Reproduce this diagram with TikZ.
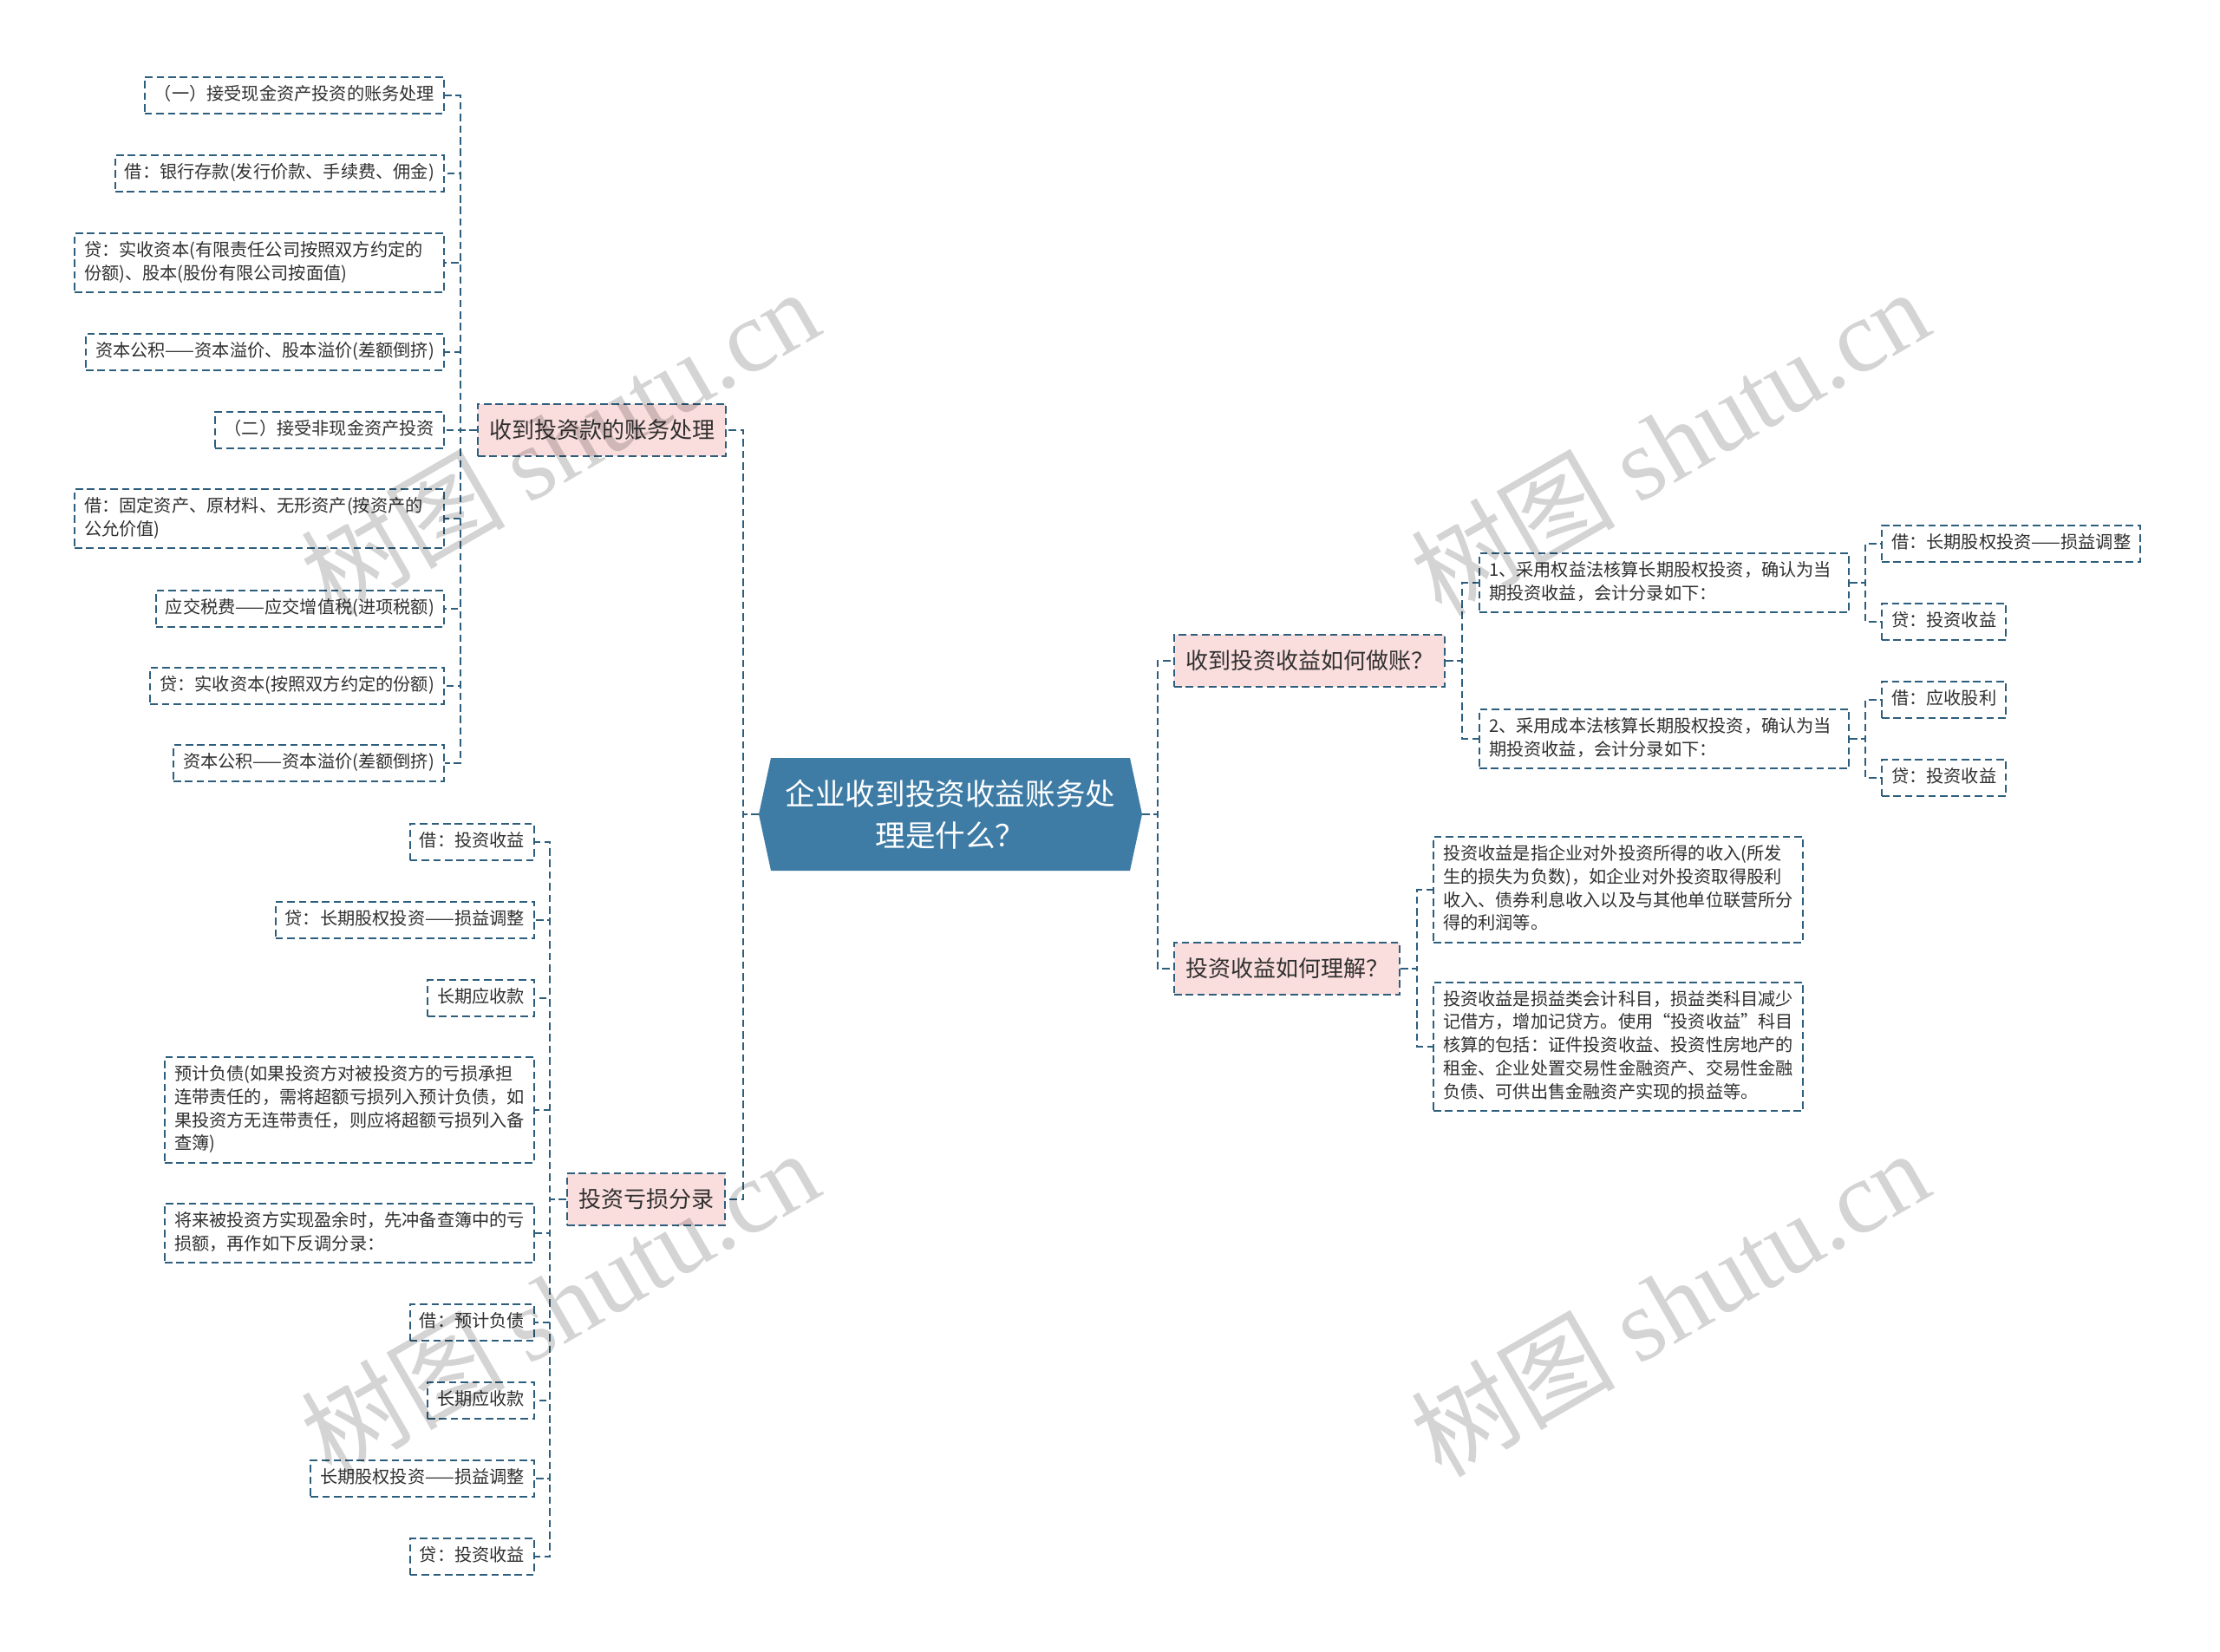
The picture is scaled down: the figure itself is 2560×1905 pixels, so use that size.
\documentclass[tikz,border=0pt]{standalone}
\usepackage{fontspec}
\setmainfont{Noto Sans CJK SC}
\newfontfamily\wmserif{Liberation Serif}
\usetikzlibrary{calc}
\definecolor{linec}{RGB}{46,94,125}
\definecolor{pinkc}{RGB}{250,221,221}
\definecolor{centc}{RGB}{62,124,165}
\definecolor{txtc}{RGB}{48,48,48}
\newcommand\leaffont{\fontsize{10.1pt}{13.35pt}\selectfont}
\newcommand\branchfont{\fontsize{13pt}{16pt}\selectfont}
\newcommand\centfont{\fontsize{17.3pt}{24pt}\selectfont}
\newcommand\lstrut{\rule[-2.85pt]{0pt}{10.5pt}}
\tikzset{
  conn/.style={draw=linec, line width=1pt, dash pattern=on 4.3pt off 2.4pt},
  leaf/.style={draw=linec, line width=1pt, dash pattern=on 4.3pt off 2.4pt,
    fill=white, text=txtc, font=\leaffont, inner xsep=5.5pt, inner ysep=4.8pt,
    execute at begin node=\lstrut, execute at end node=\lstrut},
  leafm/.style={leaf, text width=202pt, align=left},
  branch/.style={draw=linec, line width=1pt, dash pattern=on 4.3pt off 2.4pt,
    fill=pinkc, text=txtc, font=\branchfont, inner xsep=6.5pt, inner ysep=0pt,
    minimum height=30pt},
  centtext/.style={text=white, font=\centfont, align=center, inner sep=0pt},
  wm/.style={rotate=30, text=black, text opacity=0.17, font=\fontsize{59pt}{59pt}\selectfont, inner sep=0pt}
}
\begin{document}
\begin{tikzpicture}[x=0.5pt,y=-0.5pt]
\fill[white] (0,0) rectangle (2560,1905);
\useasboundingbox (0,0) rectangle (2560,1905);

% centre
\fill[centc] (875,939) -- (889,874) -- (1303,874) -- (1317,939) -- (1303,1004) -- (889,1004) -- cycle;
\node[centtext] (center) at (1096,939) {企业收到投资收益账务处\\理是什么？};
\coordinate (cw) at (875,939);
\coordinate (ce) at (1317,939);

% branches
\node[branch, anchor=east] (b1) at (838,496) {收到投资款的账务处理};
\node[branch, anchor=east] (b3) at (837,1383) {投资亏损分录};
\node[branch, anchor=west] (b2) at (1353,762) {收到投资收益如何做账？};
\node[branch, anchor=west] (b4) at (1353,1117) {投资收益如何理解？};

% branch 1 leaves
\node[leaf, anchor=east] (l11) at (513,110) {（一）接受现金资产投资的账务处理};
\node[leaf, anchor=east] (l12) at (513,200) {借：银行存款(发行价款、手续费、佣金)};
\node[leafm, anchor=east] (l13) at (513,303) {贷：实收资本(有限责任公司按照双方约定的\\份额)、股本(股份有限公司按面值)};
\node[leaf, anchor=east] (l14) at (513,406) {资本公积——资本溢价、股本溢价(差额倒挤)};
\node[leaf, anchor=east] (l15) at (513,496) {（二）接受非现金资产投资};
\node[leafm, anchor=east] (l16) at (513,598) {借：固定资产、原材料、无形资产(按资产的\\公允价值)};
\node[leaf, anchor=east] (l17) at (513,702) {应交税费——应交增值税(进项税额)};
\node[leaf, anchor=east] (l18) at (513,791) {贷：实收资本(按照双方约定的份额)};
\node[leaf, anchor=east] (l19) at (513,880) {资本公积——资本溢价(差额倒挤)};

% branch 3 leaves
\node[leaf, anchor=east] (l31) at (617,971) {借：投资收益};
\node[leaf, anchor=east] (l32) at (617,1061) {贷：长期股权投资——损益调整};
\node[leaf, anchor=east] (l33) at (617,1151) {长期应收款};
\node[leafm, anchor=east] (l34) at (617,1280) {预计负债(如果投资方对被投资方的亏损承担\\连带责任的，需将超额亏损列入预计负债，如\\果投资方无连带责任，则应将超额亏损列入备\\查簿)};
\node[leafm, anchor=east] (l35) at (617,1422) {将来被投资方实现盈余时，先冲备查簿中的亏\\损额，再作如下反调分录：};
\node[leaf, anchor=east] (l36) at (617,1525) {借：预计负债};
\node[leaf, anchor=east] (l37) at (617,1615) {长期应收款};
\node[leaf, anchor=east] (l38) at (617,1705) {长期股权投资——损益调整};
\node[leaf, anchor=east] (l39) at (617,1795) {贷：投资收益};

% branch 2 children
\node[leafm, anchor=west] (a) at (1705,672) {1、采用权益法核算长期股权投资，确认为当\\期投资收益，会计分录如下：};
\node[leafm, anchor=west] (b) at (1705,852) {2、采用成本法核算长期股权投资，确认为当\\期投资收益，会计分录如下：};
\node[leaf, anchor=west] (a1) at (2169,627) {借：长期股权投资——损益调整};
\node[leaf, anchor=west] (a2) at (2169,717) {贷：投资收益};
\node[leaf, anchor=west] (bb1) at (2169,807) {借：应收股利};
\node[leaf, anchor=west] (bb2) at (2169,897) {贷：投资收益};

% branch 4 children
\node[leafm, anchor=west] (c1) at (1652,1026) {投资收益是指企业对外投资所得的收入(所发\\生的损失为负数)，如企业对外投资取得股利\\收入、债券利息收入以及与其他单位联营所分\\得的利润等。};
\node[leafm, anchor=west] (c2) at (1652,1207) {投资收益是损益类会计科目，损益类科目减少\\记借方，增加记贷方。使用“投资收益”科目\\核算的包括：证件投资收益、投资性房地产的\\租金、企业处置交易性金融资产、交易性金融\\负债、可供出售金融资产实现的损益等。};

% connectors
\draw[conn] (cw) -- ++(-18,0) |- (b1.east);
\draw[conn] (cw) -- ++(-18,0) |- (b3.east);
\draw[conn] (ce) -- ++(18,0) |- (b2.west);
\draw[conn] (ce) -- ++(18,0) |- (b4.west);
\foreach \n in {l11,l12,l13,l14,l15,l16,l17,l18,l19}
  \draw[conn] (b1.west) -- ++(-19,0) |- (\n.east);
\foreach \n in {l31,l32,l33,l34,l35,l36,l37,l38,l39}
  \draw[conn] (b3.west) -- ++(-19,0) |- (\n.east);
\foreach \n in {a,b}
  \draw[conn] (b2.east) -- ++(19,0) |- (\n.west);
\foreach \n in {a1,a2}
  \draw[conn] (a.east) -- ++(18,0) |- (\n.west);
\foreach \n in {bb1,bb2}
  \draw[conn] (b.east) -- ++(18,0) |- (\n.west);
\foreach \n in {c1,c2}
  \draw[conn] (b4.east) -- ++(19,0) |- (\n.west);

% watermarks
\node[wm] (w1) at (645,509) {树图 {\wmserif shutu.cn}};
\node[wm] (w2) at (1925,509) {树图 {\wmserif shutu.cn}};
\node[wm] (w3) at (645,1502) {树图 {\wmserif shutu.cn}};
\node[wm] (w4) at (1925,1502) {树图 {\wmserif shutu.cn}};
\end{tikzpicture}
\end{document}
